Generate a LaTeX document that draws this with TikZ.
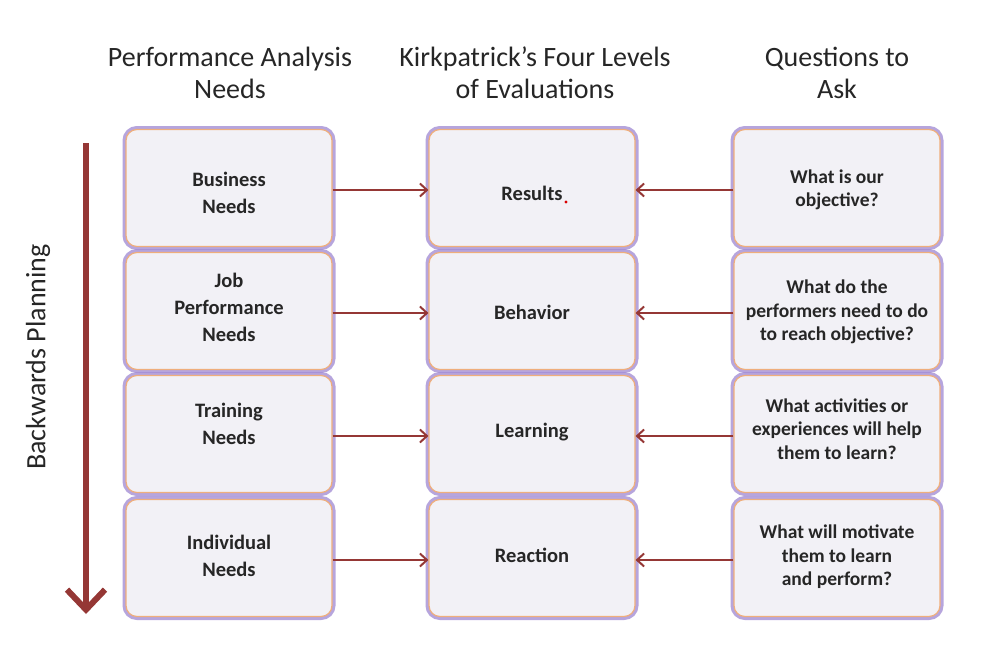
\documentclass[tikz,border=0pt]{standalone}
\usepackage{fontspec}
\setmainfont{Carlito}
\usetikzlibrary{arrows.meta}
\definecolor{boxfill}{HTML}{F2F1F6}
\definecolor{glow}{HTML}{A48ED4}
\definecolor{edge}{HTML}{EFAE7C}
\definecolor{arr}{HTML}{953735}
\definecolor{txt}{HTML}{262626}
\tikzset{
  box/.style={rounded corners=11pt, minimum width=206pt, minimum height=117pt,
    fill=boxfill, draw=edge, line width=1.2pt,
    preaction={draw=glow, line width=7pt, draw opacity=0.8}, inner sep=0pt},
  btext/.style={align=center, text=txt, font=\bfseries\fontsize{20.5}{27}\selectfont, inner sep=2pt},
  qtext/.style={btext, font=\bfseries\fontsize{19.5}{23.5}\selectfont},
  head/.style={align=center, text=txt, font=\fontsize{28}{32}\selectfont},
  link/.style={draw=arr, line width=2pt, -{Straight Barb[length=7pt,width=13pt,line width=2pt]}},
  bigarrow/.style={draw=arr, line width=6pt, -{Straight Barb[length=20pt,width=38pt,line width=6pt]}}
}
\begin{document}
\begin{tikzpicture}[x=1pt,y=-1pt]
\useasboundingbox (0,0) rectangle (987,661);
% headers
\node[head] (h1) at (230,73) {Performance Analysis\\Needs};
\node[head] (h2) at (535,73) {Kirkpatrick's Four Levels\\of Evaluations};
\node[head] (h3) at (837,73) {Questions to\\Ask};
% boxes
\foreach \n/\x/\y in {l1/229/188,l2/229/311,l3/229/434,l4/229/558,
                      m1/532/188,m2/532/311,m3/532/434,m4/532/558,
                      r1/837/188,r2/837/311,r3/837/434,r4/837/558}{
  \node[box] (\n) at (\x,\y) {};
}
% left column texts
\node[btext] (l1t) at ([yshift=-5pt]l1.center) {Business\\Needs};
\node[btext] (l2t) at ([yshift=4pt]l2.center) {Job\\Performance\\Needs};
\node[btext] (l3t) at ([yshift=10pt]l3.center) {Training\\Needs};
\node[btext] (l4t) at ([yshift=2pt]l4.center) {Individual\\Needs};
% middle column texts
\node[btext] (m1t) at ([yshift=-5pt]m1.center) {Results};
\node[btext] (m2t) at ([yshift=-1pt]m2.center) {Behavior};
\node[btext] (m3t) at ([yshift=2pt]m3.center) {Learning};
\node[btext] (m4t) at ([yshift=3pt]m4.center) {Reaction};
% right column texts
\node[qtext] (r1t) at ([yshift=-2pt]r1.center) {What is our\\objective?};
\node[qtext] (r2t) at ([yshift=-1pt]r2.center) {What do the\\performers need to do\\to reach objective?};
\node[qtext] (r3t) at ([yshift=5pt]r3.center) {What activities or\\experiences will help\\them to learn?};
\node[qtext] (r4t) at ([yshift=1pt]r4.center) {What will motivate\\them to learn\\and perform?};
% connectors
\foreach \i in {1,2,3,4}{
  \draw[link] ([yshift=-2pt]l\i.east) -- ([yshift=-2pt]m\i.west);
  \draw[link] ([yshift=-2pt]r\i.west) -- ([yshift=-2pt]m\i.east);
}
% backwards planning arrow
\coordinate (bp1) at (86,143);
\coordinate (bp2) at (86,614);
\draw[bigarrow] (bp1) -- (bp2);
\node[head, rotate=90] (bp) at (38,357) {Backwards Planning};
% stray red dot
\fill[red!85!black] (566,202) circle (1.6pt);
\end{tikzpicture}
\end{document}
